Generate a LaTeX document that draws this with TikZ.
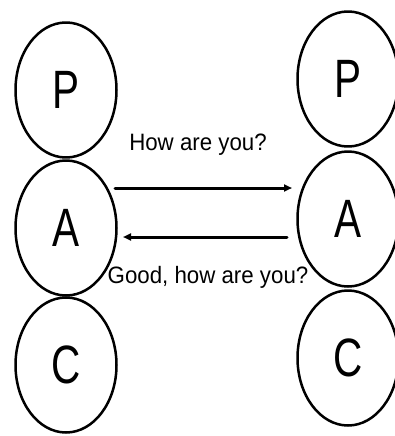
\documentclass[tikz,border=0pt]{standalone}
\usepackage{fontspec}
\setmainfont{Liberation Sans}
\newfontfamily\narrowsans[FakeStretch=0.75]{Liberation Sans}
\newfontfamily\talksans[FakeStretch=0.94]{Liberation Sans}
\usetikzlibrary{shapes.geometric,arrows.meta}

\begin{document}
\begin{tikzpicture}[x=1pt, y=-1pt, line width=2.5pt, line cap=round, line join=round,
  layer/.style={draw, ellipse, inner sep=0pt, minimum width=101pt, minimum height=135pt,
    font=\narrowsans\fontsize{54}{60}\selectfont},
  msg/.style={line width=3pt, -{Triangle[length=8pt,width=7pt]}},
  said/.style={inner sep=0pt, font=\talksans\fontsize{23.7}{28}\selectfont}]

  %% ════ left column ════
  \node[layer] (lp) at (66,90)  {P};
  \node[layer] (la) at (66,228) {A};
  \node[layer] (lc) at (66,365) {C};

  %% ════ right column ════
  \node[layer] (rp) at (348,79)  {P};
  \node[layer] (ra) at (348,219) {A};
  \node[layer] (rc) at (348,358) {C};

  %% ════ arrow ends ════
  \coordinate (askfrom) at (115,188);
  \coordinate (askto)   at (292,188);
  \coordinate (repfrom) at (287,237);
  \coordinate (repto)   at (123,237);

  %% ════ messages ════
  \draw[msg] (askfrom) -- (askto);
  \draw[msg] (repfrom) -- (repto);

  %% ════ labels ════
  \node[said] (ask) at (198,145) {How are you?};
  \node[said] (rep) at (208,277) {Good, how are you?};

  \pgfresetboundingbox
  \path[use as bounding box] (0,0) rectangle (395,436);
\end{tikzpicture}
\end{document}
